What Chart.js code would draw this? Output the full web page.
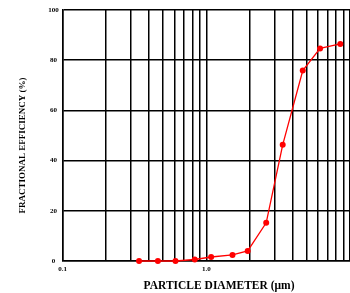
<!DOCTYPE html>
<html>
<head>
<meta charset="utf-8">
<script src="https://cdn.jsdelivr.net/npm/chart.js@4"></script>
<style>
html,body{margin:0;padding:0;background:#fff;overflow:hidden;}
#wrap{width:354px;height:293px;position:relative;}
</style>
</head>
<body>
<div id="wrap"><canvas id="c"></canvas></div>
<script>
const diameters = [0.34, 0.46, 0.61, 0.83, 1.08, 1.52, 1.94, 2.61, 3.40, 4.69, 6.19, 8.56];
const efficiencies = [0, 0, 0, 0.6, 1.6, 2.4, 4.0, 15.2, 46.3, 75.9, 84.7, 86.5];
const xTickValues = [0.1,0.2,0.3,0.4,0.5,0.6,0.7,0.8,0.9,1,2,3,4,5,6,7,8,9,10];
const xTickLabels = {0.1: '0.1', 1: '1.0'};
const yTickValues = [0, 20, 40, 60, 80, 100];
const xTitle = 'PARTICLE DIAMETER (\u03bcm)';
const yTitle = 'FRACTIONAL EFFICIENCY (%)';

const points = diameters.map((d, i) => ({x: d, y: efficiencies[i]}));
const serif = '"Liberation Serif", "Times New Roman", serif';

new Chart(document.getElementById('c'), {
  type: 'line',
  data: {
    datasets: [{
      data: points,
      borderColor: '#ff0000',
      backgroundColor: '#ff0000',
      borderWidth: 1.3,
      pointRadius: 3,
      pointBorderWidth: 0,
      tension: 0,
      clip: false
    }]
  },
  options: {
    responsive: true,
    maintainAspectRatio: false,
    animation: false,
    devicePixelRatio: 1,
    layout: {padding: {top: 10, right: 0, bottom: 0, left: 0}},
    plugins: {legend: {display: false}, tooltip: {enabled: false}},
    scales: {
      x: {
        type: 'logarithmic',
        min: 0.1,
        max: 10,
        afterBuildTicks: (s) => { s.ticks = xTickValues.map(v => ({value: v})); },
        afterFit: (s) => { s.height = 32; },
        grid: {color: '#000', lineWidth: 1.5, drawTicks: false},
        border: {color: '#000', width: 1.5},
        ticks: {
          autoSkip: false,
          maxRotation: 0,
          padding: 4,
          color: '#000',
          font: {family: serif, size: 7, weight: 'bold'},
          callback: (v) => xTickLabels[v] || ''
        },
        title: {
          display: true,
          text: '\u2003\u2003\u2009' + xTitle,
          color: '#000',
          padding: {top: 2, bottom: 0},
          font: {family: serif, size: 11.5, weight: 'bold'}
        }
      },
      y: {
        min: 0,
        max: 100,
        afterBuildTicks: (s) => { s.ticks = yTickValues.map(v => ({value: v})); },
        afterFit: (s) => { s.width = 62.7; },
        grid: {color: '#000', lineWidth: 1.5, drawTicks: false},
        border: {color: '#000', width: 1.5},
        ticks: {
          padding: 4,
          color: '#000',
          crossAlign: 'center',
          font: {family: serif, size: 7, weight: 'bold'}
        },
        title: {
          display: true,
          text: yTitle + '\u2003\u2003\u2009',
          color: '#000',
          padding: {top: 17, bottom: 0},
          font: {family: serif, size: 9, weight: 'bold'}
        }
      }
    }
  }
});
</script>
</body>
</html>
